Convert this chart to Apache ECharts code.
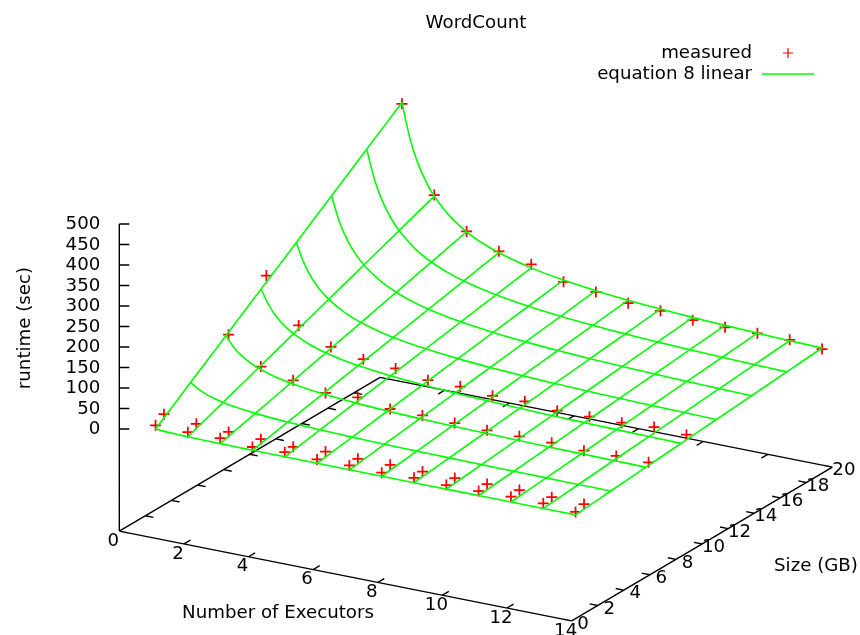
<!DOCTYPE html>
<html>
<head>
<meta charset="utf-8">
<title>WordCount</title>
<style>
html, body { margin: 0; padding: 0; background: #fff; }
#main { width: 860px; height: 635px; }
</style>
<script src="https://cdn.jsdelivr.net/npm/echarts@6/dist/echarts.min.js"></script>
</head>
<body>
<div id="main"></div>
<script>
// axis ticks
var xTicks = [0, 2, 4, 6, 8, 10, 12, 14];
var yTicks = [0, 2, 4, 6, 8, 10, 12, 14, 16, 18, 20];
var zTicks = [0, 50, 100, 150, 200, 250, 300, 350, 400, 450, 500];

// measured runtime (sec) for 1..14 executors, one list per input size
var measuredExecutors = [1, 2, 3, 4, 5, 6, 7, 8, 9, 10, 11, 12, 13, 14];
var measuredSizes = [0.3, 0.95, 5.9, 8.8, 19.2];
var measuredA = [19, 18, 19, 13, 16, 14, 15, 13, 16, 14, 15, 17, 16, 11];
var measuredB = [34, 26, 22, 20, 17, 21, 19, 20, 19, 19, 20, 21, 19, 18];
var measuredC = [135, 73, 55, 40, 45, 32, 32, 29, 27, 28, 28, 24, 27, 27];
var measuredD = [225, 119, 82, 68, 61, 48, 48, 41, 43, 36, 37, 38, 43, 40];
var measuredE = [449, 242, 169, 136, 120, 93, 84, 72, 69, 62, 60, 61, 61, 54];

// fitted surface
var surfaceX = [1, 1.25, 1.5, 1.75, 2, 2.5, 3, 3.5, 4, 5, 6, 7, 8, 9, 10, 11, 12, 13, 14];
var surfaceSizes = [0.3, 3, 5.7, 8.4, 11.1, 13.8, 16.5, 19.2];
var surface1 = [10, 8.7, 7.8, 7.2, 6.7, 6, 5.6, 5.3, 5, 4.7, 4.5, 4.3, 4.2, 4.1, 4, 4, 3.9, 3.9, 3.8];
var surface2 = [73.2, 59.9, 51, 44.7, 39.9, 33.2, 28.8, 25.6, 23.3, 19.9, 17.7, 16.1, 14.9, 14, 13.3, 12.7, 12.2, 11.7, 11.4];
var surface3 = [136.4, 111.1, 94.2, 82.2, 73.1, 60.5, 52, 46, 41.5, 35.1, 30.9, 27.9, 25.7, 23.9, 22.5, 21.3, 20.4, 19.6, 18.9];
var surface4 = [199.6, 162.3, 137.4, 119.6, 106.3, 87.7, 75.2, 66.4, 59.7, 50.4, 44.2, 39.7, 36.4, 33.8, 31.7, 30, 28.6, 27.4, 26.4];
var surface5 = [262.7, 213.5, 180.6, 157.1, 139.5, 114.9, 98.5, 86.7, 77.9, 65.6, 57.4, 51.5, 47.1, 43.7, 41, 38.7, 36.9, 35.3, 33.9];
var surface6 = [325.9, 264.6, 223.8, 194.6, 172.7, 142.1, 121.7, 107.1, 96.2, 80.8, 70.6, 63.3, 57.9, 53.6, 50.2, 47.4, 45.1, 43.1, 41.4];
var surface7 = [389.1, 315.8, 267, 232.1, 206, 169.3, 144.9, 127.5, 114.4, 96.1, 83.9, 75.1, 68.6, 63.5, 59.4, 56.1, 53.3, 51, 49];
var surface8 = [452.3, 367, 310.2, 269.6, 239.2, 196.5, 168.1, 147.8, 132.6, 111.3, 97.1, 86.9, 79.3, 73.4, 68.7, 64.8, 61.6, 58.8, 56.5];

var FONT = '"DejaVu Sans"';
var FLOOR_Z = -249;
var PLUS = 'path://M4.2 0h1.6v4.2H10v1.6H5.8V10H4.2V5.8H0V4.2h4.2z';
var LEGEND_PLUS = 'path://M4.4 0h1.2v4.4H10v1.2H5.6V10H4.4V5.6H0V4.4h4.4z';
var LEGEND_LINE = 'path://M0 0H52V1.4H0z';
var GAP = [NaN, NaN];

// gnuplot's view, flattened onto a plain 860x635 value plane
function project(x, y, z) {
    return [
        119.3 + 32.31 * x + 13.04 * y,
        429 + 6.41 * x - 7.685 * y - 0.41 * z
    ];
}

function segment(out, a, b) {
    out.push(a, b, GAP);
}

// surface mesh
var surfaceRows = [surface1, surface2, surface3, surface4, surface5, surface6, surface7, surface8];
var meshData = [];
surfaceRows.forEach(function (row, r) {
    row.forEach(function (z, i) {
        meshData.push(project(surfaceX[i], surfaceSizes[r], z));
    });
    meshData.push(GAP);
});
surfaceX.forEach(function (x, i) {
    if (x !== Math.floor(x)) {
        return;
    }
    surfaceRows.forEach(function (row, r) {
        meshData.push(project(x, surfaceSizes[r], row[i]));
    });
    meshData.push(GAP);
});

// measured points
var measuredRows = [measuredA, measuredB, measuredC, measuredD, measuredE];
var measuredData = [];
measuredRows.forEach(function (row, r) {
    row.forEach(function (z, i) {
        measuredData.push(project(measuredExecutors[i], measuredSizes[r], z));
    });
});

// box, z axis and tics
var axisData = [];
segment(axisData, project(0, 0, FLOOR_Z), project(14, 0, FLOOR_Z));
segment(axisData, project(0, 0, FLOOR_Z), project(0, 20, FLOOR_Z));
segment(axisData, project(14, 0, FLOOR_Z), project(14, 20, FLOOR_Z));
segment(axisData, project(0, 20, FLOOR_Z), project(14, 20, FLOOR_Z));
segment(axisData, project(0, 0, FLOOR_Z), project(0, 0, 500));
xTicks.forEach(function (v) {
    segment(axisData, project(v, 0, FLOOR_Z), project(v, 0.5, FLOOR_Z));
    segment(axisData, project(v, 20, FLOOR_Z), project(v, 19.5, FLOOR_Z));
});
yTicks.forEach(function (v) {
    segment(axisData, project(0, v, FLOOR_Z), project(0.25, v, FLOOR_Z));
    segment(axisData, project(14, v, FLOOR_Z), project(13.75, v, FLOOR_Z));
});
zTicks.forEach(function (v) {
    var p = project(0, 0, v);
    segment(axisData, p, [p[0] + 10, p[1]]);
});

function tickLabels(name, ticks, toPoint, label) {
    return {
        name: name,
        type: 'scatter',
        symbolSize: 0,
        silent: true,
        z: 4,
        itemStyle: {opacity: 1},
        data: ticks.map(function (v) {
            var p = toPoint(v);
            return {value: p, name: String(v)};
        }),
        label: Object.assign({
            show: true,
            position: 'inside',
            formatter: '{b}',
            color: '#000',
            fontFamily: FONT,
            fontSize: 18.2,
            verticalAlign: 'middle'
        }, label)
    };
}

function axisTitle(text, x, y, rotation) {
    return {
        type: 'text',
        x: x,
        y: y,
        rotation: rotation,
        style: {
            text: text,
            fill: '#000',
            font: '18.2px ' + FONT,
            textAlign: 'center',
            textVerticalAlign: 'middle'
        }
    };
}

var chart = echarts.init(document.getElementById('main'), null, {renderer: 'canvas'});
chart.setOption({
    animation: false,
    backgroundColor: '#fff',
    title: {
        text: 'WordCount',
        left: 471,
        top: 9,
        textAlign: 'center',
        textStyle: {color: '#000', fontFamily: FONT, fontSize: 18.2, fontWeight: 'normal'}
    },
    legend: {
        orient: 'vertical',
        align: 'right',
        right: 46,
        top: 43,
        itemWidth: 52,
        itemHeight: 10,
        itemGap: 1,
        padding: 0,
        selectedMode: false,
        data: [
            {name: 'measured', icon: LEGEND_PLUS, itemStyle: {color: '#ff0000'}},
            {name: 'equation 8 linear', icon: LEGEND_LINE, itemStyle: {color: '#00ff00', borderWidth: 0}}
        ],
        textStyle: {color: '#000', fontFamily: FONT, fontSize: 18.2, padding: [0, 5, 0, 0], lineHeight: 20}
    },
    grid: {left: 0, right: 0, top: 0, bottom: 0},
    xAxis: {type: 'value', min: 0, max: 860, show: false},
    yAxis: {type: 'value', min: 0, max: 635, inverse: true, show: false},
    graphic: [
        axisTitle('runtime (sec)', 25, 328, Math.PI / 2),
        axisTitle('Number of Executors', 278, 613.5, 0),
        axisTitle('Size (GB)', 816, 566, 0)
    ],
    series: [
        {
            name: 'axes',
            type: 'line',
            silent: true,
            symbol: 'none',
            z: 1,
            lineStyle: {color: '#000', width: 1.4},
            data: axisData
        },
        {
            name: 'measured',
            type: 'scatter',
            silent: true,
            symbol: PLUS,
            symbolSize: 11,
            z: 2,
            itemStyle: {color: '#ff0000', opacity: 1},
            data: measuredData
        },
        {
            name: 'equation 8 linear',
            type: 'line',
            silent: true,
            symbol: 'none',
            smooth: 0.3,
            z: 3,
            color: '#00ff00',
            lineStyle: {color: '#00ff00', width: 1.6},
            data: meshData
        },
        tickLabels('xLabels', xTicks, function (v) {
            return project(v, 0, FLOOR_Z);
        }, {align: 'center', offset: [-6, 10]}),
        tickLabels('yLabels', yTicks, function (v) {
            return project(14, v, FLOOR_Z);
        }, {align: 'center', offset: [11.5, 3.5]}),
        tickLabels('zLabels', zTicks, function (v) {
            return project(0, 0, v);
        }, {align: 'right', offset: [-19, 0.5]})
    ]
});
</script>
</body>
</html>
